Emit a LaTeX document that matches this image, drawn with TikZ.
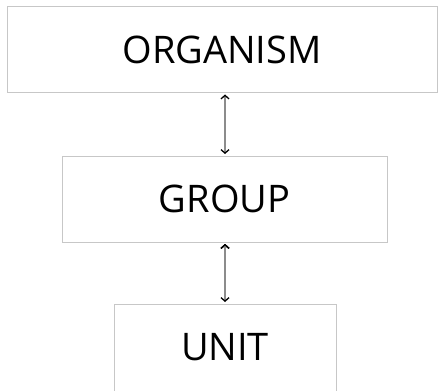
\documentclass[tikz,border=0pt]{standalone}
\usepackage{fontspec}
\setmainfont{Open Sans}
\usetikzlibrary{arrows.meta,positioning}
\tikzset{
    %Define standard arrow tip
    >={Straight Barb[length=3.5pt,width=8pt,color=black,line width=1.3pt]},
    %Define style for boxes
    level/.style={
           rectangle,
           draw=black!22, line width=1pt,
           minimum height=86pt,
           inner sep=0pt,
           font=\fontsize{38}{46}\selectfont,
           text centered},
    % Define arrow style
    link/.style={
           <->,
           draw=black!45,
           line width=1.1pt,
           shorten <=1.5pt,
           shorten >=1.5pt}
}
\begin{document}
\begin{tikzpicture}[x=1pt,y=-1pt]
\clip (0,0) rectangle (438,390);
\useasboundingbox (0,0) rectangle (438,390);
\node[level, minimum width=430pt](organism) at (222,49.5){ORGANISM};
\node[level, minimum width=325pt](group) at (224.5,199){GROUP};
% box runs on past the lower edge
\node[level, minimum width=222pt, minimum height=96pt, text depth=10pt](unit) at (225,352){UNIT};
 \path[link]
    (organism.south -| unit.north) edge (group.north -| unit.north)
    (group.south -| unit.north) edge (unit.north);
\end{tikzpicture}
\end{document}
